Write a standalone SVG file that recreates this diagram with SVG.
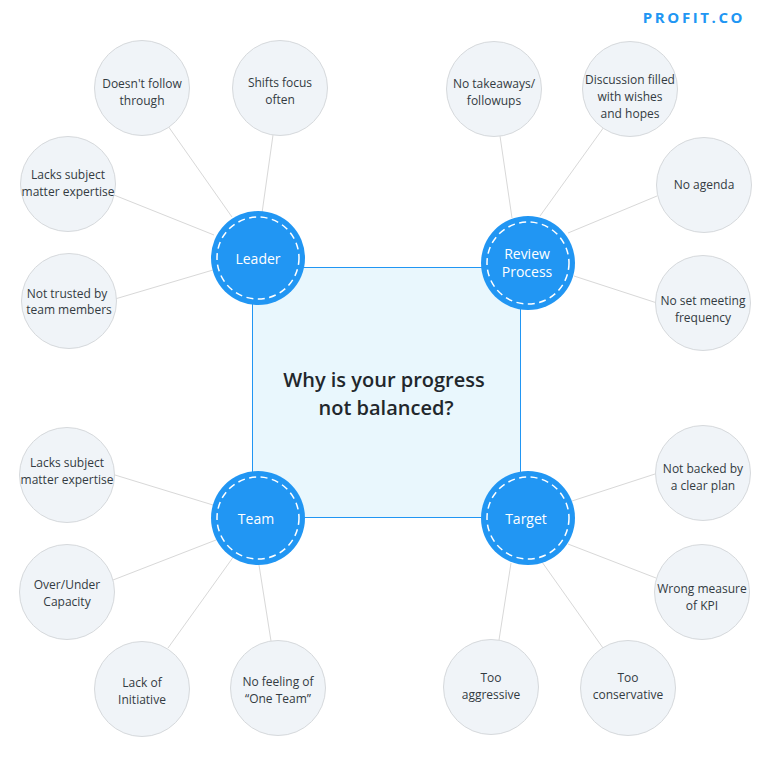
<svg xmlns="http://www.w3.org/2000/svg" width="770" height="760" viewBox="0 0 770 760">
<style>
text{font-family:"Open Sans","Noto Sans",sans-serif;text-anchor:middle}
.leaf circle{fill:#f0f4f8;stroke:#d6d9dc;stroke-width:1}
.leaf text{font-size:12px;fill:#333b42}
.hub .disc{fill:#2196f3}
.hub .ring{fill:none;stroke:#fff;stroke-width:1.5;stroke-dasharray:7 4.5}
.hub text{font-size:14px;fill:#fff}
.spoke{stroke:#d8d8d8;stroke-width:1;fill:none}
.brand{font-size:15px;font-weight:700;fill:#2196f3;letter-spacing:2.6px}
</style>
<rect width="770" height="760" fill="#fff"/>
<g id="connectors">
<path class="spoke" d="M232 217L168 126M262 213L273 135M214 235L114 195M213 270L115 299"/>
<path class="spoke" d="M512 218L500 136M540 216L604 127M568 233L657 196M574 276L657 303"/>
<path class="spoke" d="M213 505L115 475M216 540L113 580M234 556L168 648M259 565L271 641"/>
<path class="spoke" d="M572 501L655 474M568 544L656 578M542 562L603 648M511 563L499 640"/>
</g>
<g id="center"><rect x="252.500" y="267.500" width="268" height="250" fill="#e9f7fd" stroke="#2196f3" stroke-width="1"/>
<text x="384" y="387" font-size="20" font-weight="600" fill="#22272c" style="font-size:20px">Why is your progress</text>
<text x="386" y="415" font-size="20" font-weight="600" fill="#22272c" style="font-size:20px">not balanced?</text></g>
<g id="hub-leader" class="hub"><circle class="disc" cx="258" cy="258" r="47"/><circle class="ring" cx="258" cy="258" r="41"/><text x="258" y="264">Leader</text></g>
<g id="hub-review" class="hub"><circle class="disc" cx="528" cy="263" r="47"/><circle class="ring" cx="528" cy="263" r="41"/><text x="527" y="259">Review</text><text x="527" y="277">Process</text></g>
<g id="hub-team" class="hub"><circle class="disc" cx="258" cy="518" r="47"/><circle class="ring" cx="258" cy="518" r="41"/><text x="256" y="524">Team</text></g>
<g id="hub-target" class="hub"><circle class="disc" cx="528" cy="518" r="47"/><circle class="ring" cx="528" cy="518" r="41"/><text x="526" y="524">Target</text></g>
<g id="leaf-follow" class="leaf"><circle cx="142" cy="88" r="47.500"/><text x="142" y="88">Doesn't follow</text><text x="142" y="105">through</text></g>
<g id="leaf-shifts" class="leaf"><circle cx="280" cy="88" r="47.500"/><text x="280" y="87">Shifts focus</text><text x="280" y="104">often</text></g>
<g id="leaf-lacks-l" class="leaf"><circle cx="68" cy="184" r="47.500"/><text x="68" y="179">Lacks subject</text><text x="68" y="196">matter expertise</text></g>
<g id="leaf-trusted" class="leaf"><circle cx="69" cy="301" r="47.500"/><text x="67" y="298">Not trusted by</text><text x="69" y="314">team members</text></g>
<g id="leaf-takeaways" class="leaf"><circle cx="494" cy="89" r="47.500"/><text x="494" y="88">No takeaways/</text><text x="494" y="105">followups</text></g>
<g id="leaf-discussion" class="leaf"><circle cx="630" cy="89" r="47.500"/><text x="630" y="84">Discussion filled</text><text x="630" y="101">with wishes</text><text x="630" y="118">and hopes</text></g>
<g id="leaf-agenda" class="leaf"><circle cx="704" cy="185" r="47.500"/><text x="704" y="189">No agenda</text></g>
<g id="leaf-frequency" class="leaf"><circle cx="703" cy="303" r="47.500"/><text x="703" y="305">No set meeting</text><text x="703" y="322">frequency</text></g>
<g id="leaf-lacks-t" class="leaf"><circle cx="67" cy="475" r="47.500"/><text x="67" y="467">Lacks subject</text><text x="67" y="484">matter expertise</text></g>
<g id="leaf-capacity" class="leaf"><circle cx="67" cy="592" r="47.500"/><text x="67" y="589">Over/Under</text><text x="67" y="606">Capacity</text></g>
<g id="leaf-initiative" class="leaf"><circle cx="142" cy="689" r="47.500"/><text x="142" y="687">Lack of</text><text x="142" y="704">Initiative</text></g>
<g id="leaf-oneteam" class="leaf"><circle cx="278" cy="688" r="47.500"/><text x="278" y="686">No feeling of</text><text x="278" y="703">“One Team”</text></g>
<g id="leaf-plan" class="leaf"><circle cx="703" cy="473" r="47.500"/><text x="703" y="473">Not backed by</text><text x="703" y="490">a clear plan</text></g>
<g id="leaf-kpi" class="leaf"><circle cx="702" cy="592" r="47.500"/><text x="702" y="593">Wrong measure</text><text x="702" y="610">of KPI</text></g>
<g id="leaf-conservative" class="leaf"><circle cx="628" cy="688" r="47.500"/><text x="628" y="682">Too</text><text x="628" y="699">conservative</text></g>
<g id="leaf-aggressive" class="leaf"><circle cx="491" cy="687" r="47.500"/><text x="491" y="682">Too</text><text x="491" y="699">aggressive</text></g>
<g id="logo"><text class="brand" x="694" y="23">PROFIT.CO</text></g>
</svg>
